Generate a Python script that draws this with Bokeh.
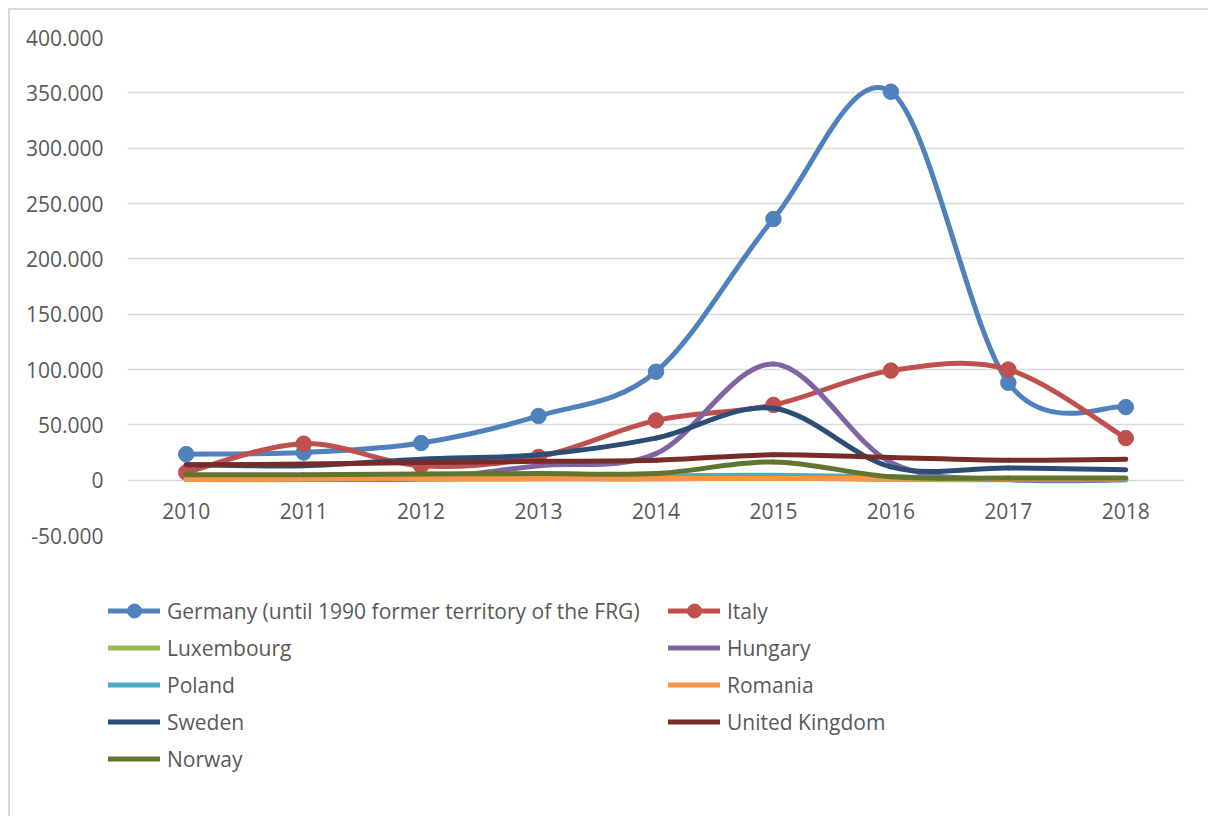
from bokeh.plotting import figure
from bokeh.models import Range1d, FixedTicker, Legend, LegendItem, ColumnDataSource
from bokeh.layouts import column
from bokeh.core.properties import value
from bokeh.embed import file_html
from bokeh.resources import INLINE

# ---------------- data (values in thousands) ----------------
years = [2010, 2011, 2012, 2013, 2014, 2015, 2016, 2017, 2018]
year_labels = ["2010", "2011", "2012", "2013", "2014", "2015", "2016", "2017", "2018"]
germany = [23.5, 25, 33.5, 58, 98, 236, 351, 88, 66]
italy = [7, 33, 13, 21, 54, 68, 99, 100, 38]
luxembourg = [0.5, 0.5, 0.7, 1, 1, 2, 0.5, 0.3, 0.3]
hungary = [1, 1, 1.5, 13, 24, 105, 16, 0.5, 0.3]
poland = [3, 3, 4, 4, 4, 4.5, 3, 0.5, 0.5]
romania = [0.5, 1, 1.5, 1.5, 1.5, 1.5, 1.5, 1.5, 1.5]
sweden = [14, 13, 19, 23, 38, 65, 12, 11, 9.5]
united_kingdom = [14, 14.5, 16, 17, 18, 23, 20.5, 18, 19]
norway = [5, 5, 5.5, 6, 6, 16.5, 3, 2, 2]

series_names = ["Germany (until 1990 former territory of the FRG)", "Italy", "Luxembourg",
                "Hungary", "Poland", "Romania", "Sweden", "United Kingdom", "Norway"]
series_values = [germany, italy, luxembourg, hungary, poland, romania, sweden,
                 united_kingdom, norway]
series_colors = ["#4F81BD", "#C0504D", "#9BBB59", "#8064A2", "#4BACC6", "#F79646",
                 "#2C4D75", "#772C2A", "#5F7530"]
series_markers = [True, True, False, False, False, False, False, False, False]

y_ticks = [-50, 0, 50, 100, 150, 200, 250, 300, 350, 400]
y_tick_labels = ["-50.000", "0", "50.000", "100.000", "150.000", "200.000",
                 "250.000", "300.000", "350.000", "400.000"]

FONT = "Open Sans"
TXT = "#595959"
LW = 5


def smooth_segments(xs, ys):
    """Bezier control points for an Excel-like smoothed line (Catmull-Rom)."""
    n = len(xs)
    d = dict(x0=[], y0=[], x1=[], y1=[], cx0=[], cy0=[], cx1=[], cy1=[])
    for i in range(n - 1):
        a = i - 1 if i > 0 else i
        b = i + 2 if i + 2 < n else i + 1
        d["x0"].append(xs[i]); d["y0"].append(ys[i])
        d["x1"].append(xs[i + 1]); d["y1"].append(ys[i + 1])
        d["cx0"].append(xs[i] + (xs[i + 1] - xs[a]) / 6)
        d["cy0"].append(ys[i] + (ys[i + 1] - ys[a]) / 6)
        d["cx1"].append(xs[i + 1] - (xs[b] - xs[i]) / 6)
        d["cy1"].append(ys[i + 1] - (ys[b] - ys[i]) / 6)
    return d


# ---------------- main chart ----------------
p = figure(width=1198, height=550,
           x_range=Range1d(2009.5, 2018.5), y_range=Range1d(-50, 400),
           output_backend="svg", toolbar_location=None,
           min_border_left=117, min_border_right=24,
           min_border_top=27, min_border_bottom=25)
p.outline_line_color = None
p.background_fill_color = "white"
p.border_fill_color = "white"
p.xaxis.visible = False

p.xgrid.visible = False
p.ygrid.ticker = FixedTicker(ticks=y_ticks)
p.ygrid.grid_line_color = "#D9D9D9"
p.ygrid.grid_line_width = 1.5

p.yaxis.ticker = FixedTicker(ticks=y_ticks)
p.yaxis.major_label_overrides = {t: l for t, l in zip(y_ticks, y_tick_labels)}
p.yaxis.axis_line_color = None
p.yaxis.major_tick_line_color = None
p.yaxis.minor_tick_line_color = None
p.yaxis.major_label_standoff = 18
p.yaxis.major_label_text_font = FONT
p.yaxis.major_label_text_font_size = "21px"
p.yaxis.major_label_text_color = TXT

# category labels sitting under the zero line
p.text(x=years, y=[0] * len(years), text=year_labels, y_offset=31,
       text_align="center", text_baseline="middle",
       text_font=value(FONT), text_font_size="21px", text_color=TXT)

for name, vals, col, mk in zip(series_names, series_values, series_colors, series_markers):
    src = ColumnDataSource(smooth_segments(years, vals))
    p.bezier(x0="x0", y0="y0", x1="x1", y1="y1", cx0="cx0", cy0="cy0",
             cx1="cx1", cy1="cy1", source=src, line_color=col, line_width=LW,
             line_cap="round")
    if mk:
        p.scatter(x=years, y=vals, size=15.5, fill_color=col, line_color=col)

# ---------------- legend panel ----------------
# proxy renderers carry the series styles; their data lie outside this panel's ranges
lg = figure(width=1198, height=256, x_range=Range1d(0, 1), y_range=Range1d(0, 1),
            x_axis_type=None, y_axis_type=None,
            output_backend="svg", toolbar_location=None,
            min_border_left=0, min_border_right=0, min_border_top=0, min_border_bottom=0)
lg.frame_align = False
lg.outline_line_color = None
lg.xgrid.visible = False
lg.ygrid.visible = False
lg.background_fill_color = "white"
lg.border_fill_color = "white"

items = {}
for name, vals, col, mk in zip(series_names, series_values, series_colors, series_markers):
    rends = [lg.line(x=years, y=vals, line_color=col, line_width=LW, line_cap="round")]
    if mk:
        rends.append(lg.scatter(x=years, y=vals, size=15, fill_color=col, line_color=col))
    items[name] = rends

order = [series_names[i] for i in (0, 2, 4, 6, 8, 1, 3, 5, 7)]
legend = Legend(items=[LegendItem(label=n, renderers=items[n]) for n in order],
                orientation="vertical", ncols=2, location=(98, 40))
legend.glyph_width = 52
legend.glyph_height = 35
legend.label_standoff = 7
legend.label_width = 499
legend.spacing = 2
legend.padding = 0
legend.margin = 0
legend.border_line_color = None
legend.background_fill_alpha = 0
legend.label_text_font = FONT
legend.label_text_font_size = "21px"
legend.label_text_color = TXT
lg.add_layout(legend, "center")

layout = column(p, lg, spacing=0, margin=(8, 0, 0, 8),
                styles={"border-left": "2px solid #D9D9D9",
                        "border-top": "2px solid #D9D9D9"})

open("out.html", "w").write(file_html(layout, INLINE))
